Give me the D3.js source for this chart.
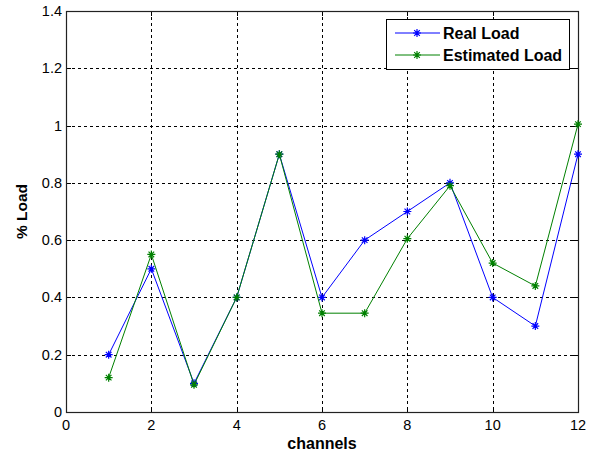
<!DOCTYPE html>
<html><head><meta charset="utf-8">
<script src="https://cdn.jsdelivr.net/npm/d3@7"></script>
<style>body{margin:0;background:#fff;}svg{display:block;font-family:"Liberation Sans",Arial,sans-serif;}</style>
</head><body><svg id="c" width="598" height="453"></svg>
<script>
const channels = [1,2,3,4,5,6,7,8,9,10,11,12];
const realLoad = [0.2,0.5,0.1,0.4,0.9,0.4,0.6,0.7,0.8,0.4,0.3,0.9];
const estimatedLoad = [0.12,0.55,0.095,0.4,0.9,0.345,0.345,0.605,0.79,0.52,0.44,1.005];
const xTicks = [0,2,4,6,8,10,12];
const yTicks = [0,0.2,0.4,0.6,0.8,1,1.2,1.4];
const seriesNames = ["Real Load","Estimated Load"];
const seriesColors = ["#0000ff","#008000"];

const svg = d3.select("#c");
const L=66, R=578, T=11, B=412;
const x = d3.scaleLinear().domain([0,12]).range([L,R]);
const y = d3.scaleLinear().domain([0,1.4]).range([B,T]);

// grid
const g = svg.append("g");
g.selectAll(".gx").data(xTicks.slice(1,-1)).enter().append("line")
  .attr("x1",d=>Math.round(x(d))+0.5).attr("x2",d=>Math.round(x(d))+0.5)
  .attr("y1",T).attr("y2",B).attr("stroke","#000").attr("stroke-dasharray","3,3").attr("stroke-width",1);
g.selectAll(".gy").data(yTicks.slice(1,-1)).enter().append("line")
  .attr("y1",d=>Math.round(y(d))+0.5).attr("y2",d=>Math.round(y(d))+0.5)
  .attr("x1",L).attr("x2",R).attr("stroke","#000").attr("stroke-dasharray","3,3").attr("stroke-width",1);

// ticks (inward, all four sides)
const tk=5;
xTicks.forEach(t=>{
  const px=Math.round(x(t))+0.5;
  svg.append("line").attr("x1",px).attr("x2",px).attr("y1",B).attr("y2",B-tk).attr("stroke","#000");
  svg.append("line").attr("x1",px).attr("x2",px).attr("y1",T).attr("y2",T+tk).attr("stroke","#000");
});
yTicks.forEach(t=>{
  const py=Math.round(y(t))+0.5;
  svg.append("line").attr("y1",py).attr("y2",py).attr("x1",L).attr("x2",L+tk).attr("stroke","#000");
  svg.append("line").attr("y1",py).attr("y2",py).attr("x1",R).attr("x2",R-tk).attr("stroke","#000");
});

// box
svg.append("rect").attr("x",L+0.5).attr("y",T+0.5).attr("width",R-L).attr("height",B-T)
  .attr("fill","none").attr("stroke","#222").attr("stroke-width",1.2);

// tick labels
svg.selectAll(".xl").data(xTicks).enter().append("text")
  .attr("x",d=>x(d)).attr("y",B+18).attr("text-anchor","middle").attr("font-size",14.5).text(d=>d);
svg.selectAll(".yl").data(yTicks).enter().append("text")
  .attr("x",L-4).attr("y",d=>y(d)+5).attr("text-anchor","end").attr("font-size",14.5).text(d=>d);

// axis labels
svg.append("text").attr("x",x(6)).attr("y",449).attr("text-anchor","middle")
  .attr("font-size",16).attr("font-weight","bold").text("channels");
svg.append("text").attr("transform",`translate(27,${y(0.7)}) rotate(-90)`).attr("text-anchor","middle")
  .attr("font-size",15.5).attr("font-weight","bold").text("% Load");

// series
function star(sel, cx, cy, color){
  const s=4;
  const p=`M${cx-s},${cy}L${cx+s},${cy}M${cx},${cy-s}L${cx},${cy+s}M${cx-s*0.7},${cy-s*0.7}L${cx+s*0.7},${cy+s*0.7}M${cx-s*0.7},${cy+s*0.7}L${cx+s*0.7},${cy-s*0.7}`;
  sel.append("path").attr("d",p).attr("stroke",color).attr("stroke-width",1.2).attr("fill","none");
}
const line = d3.line().x(d=>x(d[0])).y(d=>y(d[1]));
[realLoad, estimatedLoad].forEach((vals,i)=>{
  const pts = channels.map((c,j)=>[c,vals[j]]);
  svg.append("path").attr("d",line(pts)).attr("fill","none").attr("stroke",seriesColors[i]).attr("stroke-width",1);
  const mg = svg.append("g");
  pts.forEach(p=>star(mg,x(p[0]),y(p[1]),seriesColors[i]));
});

// legend
const lg = svg.append("g");
lg.append("rect").attr("x",386.5).attr("y",19.5).attr("width",183).attr("height",50)
  .attr("fill","#fff").attr("stroke","#000");
seriesNames.forEach((n,i)=>{
  const ly = 33 + i*22;
  lg.append("line").attr("x1",395).attr("x2",440).attr("y1",ly).attr("y2",ly).attr("stroke",seriesColors[i]);
  star(lg,417,ly,seriesColors[i]);
  lg.append("text").attr("x",443).attr("y",ly+5.5).attr("font-size",16).attr("font-weight","bold").text(n);
});
</script></body></html>
